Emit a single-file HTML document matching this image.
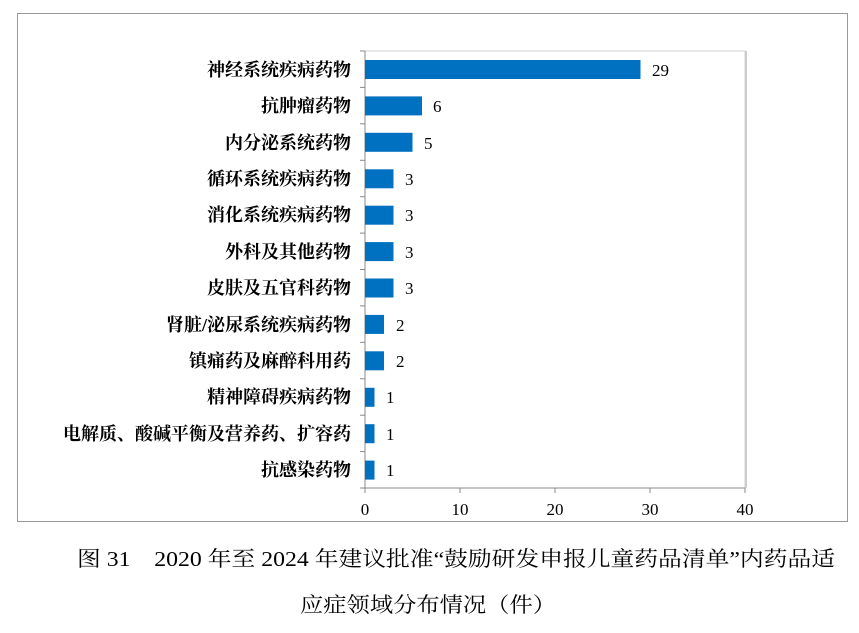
<!DOCTYPE html>
<html><head><meta charset="utf-8"><style>
body{margin:0;background:#fff;width:859px;height:628px;overflow:hidden}
</style></head><body>
<svg width="859" height="628" xmlns="http://www.w3.org/2000/svg" font-family="'Liberation Serif','Noto Serif CJK SC',serif">
<rect x="17.5" y="13.5" width="830" height="508" fill="#fff" stroke="#999" stroke-width="1"/>
<rect x="365" y="51" width="380" height="437" fill="#fff" stroke="#d0d0d0" stroke-width="1"/>
<line x1="746" y1="51" x2="746" y2="488" stroke="#ccc" stroke-width="2"/>
<line x1="365" y1="51" x2="365" y2="488" stroke="#888"/>
<line x1="365" y1="488" x2="745" y2="488" stroke="#888"/>
<g stroke="#888">
<line x1="360" y1="51" x2="365" y2="51"/><line x1="360" y1="87.4" x2="365" y2="87.4"/><line x1="360" y1="123.8" x2="365" y2="123.8"/><line x1="360" y1="160.3" x2="365" y2="160.3"/><line x1="360" y1="196.7" x2="365" y2="196.7"/><line x1="360" y1="233.1" x2="365" y2="233.1"/><line x1="360" y1="269.5" x2="365" y2="269.5"/><line x1="360" y1="305.9" x2="365" y2="305.9"/><line x1="360" y1="342.3" x2="365" y2="342.3"/><line x1="360" y1="378.8" x2="365" y2="378.8"/><line x1="360" y1="415.2" x2="365" y2="415.2"/><line x1="360" y1="451.6" x2="365" y2="451.6"/><line x1="360" y1="488" x2="365" y2="488"/>
<line x1="365" y1="488" x2="365" y2="493"/><line x1="460" y1="488" x2="460" y2="493"/><line x1="555" y1="488" x2="555" y2="493"/><line x1="650" y1="488" x2="650" y2="493"/><line x1="745" y1="488" x2="745" y2="493"/>
</g>
<g fill="#0070c0">
<rect x="365" y="60" width="275.5" height="19"/>
<rect x="365" y="96.4" width="57" height="19"/>
<rect x="365" y="132.8" width="47.5" height="19"/>
<rect x="365" y="169.3" width="28.5" height="19"/>
<rect x="365" y="205.7" width="28.5" height="19"/>
<rect x="365" y="242.1" width="28.5" height="19"/>
<rect x="365" y="278.5" width="28.5" height="19"/>
<rect x="365" y="314.9" width="19" height="19"/>
<rect x="365" y="351.3" width="19" height="19"/>
<rect x="365" y="387.8" width="9.5" height="19"/>
<rect x="365" y="424.2" width="9.5" height="19"/>
<rect x="365" y="460.6" width="9.5" height="19"/>
</g>
<g font-size="17" fill="#000">
<text x="652" y="76">29</text><text x="433" y="112">6</text><text x="424" y="149">5</text><text x="405" y="185">3</text><text x="405" y="221">3</text><text x="405" y="258">3</text><text x="405" y="294">3</text><text x="396" y="331">2</text><text x="396" y="367">2</text><text x="386" y="403">1</text><text x="386" y="440">1</text><text x="386" y="476">1</text>
</g>
<g font-size="18" fill="#000" text-anchor="end" font-weight="bold">
<text x="351" y="76">神经系统疾病药物</text>
<text x="351" y="112">抗肿瘤药物</text>
<text x="351" y="149">内分泌系统药物</text>
<text x="351" y="185">循环系统疾病药物</text>
<text x="351" y="221">消化系统疾病药物</text>
<text x="351" y="258">外科及其他药物</text>
<text x="351" y="294">皮肤及五官科药物</text>
<text x="351" y="331">肾脏/泌尿系统疾病药物</text>
<text x="351" y="367">镇痛药及麻醉科用药</text>
<text x="351" y="403">精神障碍疾病药物</text>
<text x="351" y="440">电解质、酸碱平衡及营养药、扩容药</text>
<text x="351" y="476">抗感染药物</text>
</g>
<g font-size="17" fill="#000" text-anchor="middle">
<text x="365" y="515">0</text><text x="460" y="515">10</text><text x="555" y="515">20</text><text x="650" y="515">30</text><text x="745" y="515">40</text>
</g>
<text x="77" y="566" font-size="21" fill="#000" textLength="758" lengthAdjust="spacingAndGlyphs">图 31　2020 年至 2024 年建议批准“鼓励研发申报儿童药品清单”内药品适</text>
<text x="300" y="612" font-size="21" fill="#000" textLength="256" lengthAdjust="spacingAndGlyphs">应症领域分布情况（件）</text>
</svg>
</body></html>
